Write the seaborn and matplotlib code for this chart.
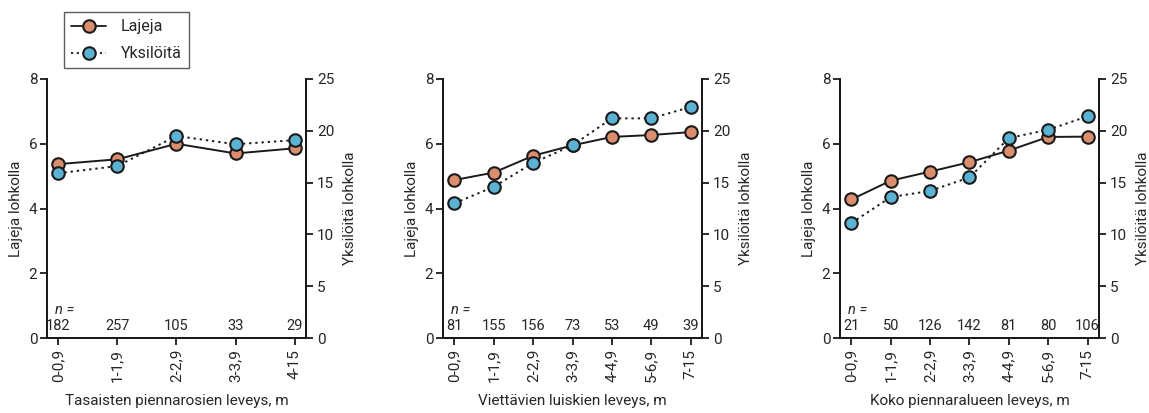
import numpy as np
import pandas as pd
import matplotlib
matplotlib.use("Agg")
import matplotlib.pyplot as plt
from matplotlib.lines import Line2D
import seaborn as sns

sns.set_theme(style="ticks")
plt.rcParams["font.family"] = ["Roboto", "DejaVu Sans"]

# Width classes per panel
classes_flat = ["0-0,9", "1-1,9", "2-2,9", "3-3,9", "4-15"]
classes_slope = ["0-0,9", "1-1,9", "2-2,9", "3-3,9", "4-4,9", "5-6,9", "7-15"]
classes_total = ["0-0,9", "1-1,9", "2-2,9", "3-3,9", "4-4,9", "5-6,9", "7-15"]

# Species per plot (left axis)
species_flat = [5.37, 5.52, 6.00, 5.70, 5.86]
species_slope = [4.88, 5.11, 5.63, 5.95, 6.21, 6.27, 6.36]
species_total = [4.28, 4.86, 5.14, 5.43, 5.79, 6.21, 6.22]

# Individuals per plot (right axis)
indiv_flat = [15.9, 16.6, 19.5, 18.7, 19.1]
indiv_slope = [13.0, 14.6, 16.9, 18.6, 21.2, 21.2, 22.3]
indiv_total = [11.1, 13.6, 14.2, 15.5, 19.3, 20.1, 21.4]

# Sample sizes
n_flat = [182, 257, 105, 33, 29]
n_slope = [81, 155, 156, 73, 53, 49, 39]
n_total = [21, 50, 126, 142, 81, 80, 106]

xlabels = [
    "Tasaisten piennarosien leveys, m",
    "Viettävien luiskien leveys, m",
    "Koko piennaralueen leveys, m",
]

ORANGE = "#DA8E6E"
BLUE = "#5BB2D3"
INK = "#1a1a1a"
FS = 11
FS_N = 10.5

fig = plt.figure(figsize=(11.49, 4.13), dpi=100)
lefts = [47 / 1149, 443 / 1149, 840 / 1149]
width = 259 / 1149
bottom = (413 - 338) / 413
height = 259 / 413

panels = [
    (classes_flat, species_flat, indiv_flat, n_flat),
    (classes_slope, species_slope, indiv_slope, n_slope),
    (classes_total, species_total, indiv_total, n_total),
]

for i, (cls, sp, ind, ns) in enumerate(panels):
    ax = fig.add_axes([lefts[i], bottom, width, height])
    df = pd.DataFrame({"pos": np.arange(len(cls)), "lajeja": sp, "yksiloita": ind})

    sns.lineplot(data=df, x="pos", y="lajeja", ax=ax, color=INK, lw=1.4,
                 marker="o", markersize=9, markerfacecolor=ORANGE,
                 markeredgecolor=INK, markeredgewidth=1.5, zorder=3)
    ax2 = ax.twinx()
    sns.lineplot(data=df, x="pos", y="yksiloita", ax=ax2, color=INK, lw=1.4,
                 linestyle=(0, (1.2, 2.0)),
                 marker="o", markersize=9, markerfacecolor=BLUE,
                 markeredgecolor=INK, markeredgewidth=1.5, zorder=3)

    pad = 0.19 if len(cls) == 5 else 0.29
    for a in (ax, ax2):
        a.set_xlim(-pad, len(cls) - 1 + pad)
        a.spines["top"].set_visible(False)
        for s in ("left", "right", "bottom"):
            a.spines[s].set_linewidth(1.4)
            a.spines[s].set_color(INK)
    ax.set_ylim(0, 8)
    ax2.set_ylim(0, 25)
    ax.set_yticks([0, 2, 4, 6, 8])
    ax2.set_yticks([0, 5, 10, 15, 20, 25])
    ax.set_xticks(np.arange(len(cls)))
    ax.set_xticklabels(cls, rotation=90, fontsize=FS)
    ax.tick_params(axis="y", labelsize=FS, length=5, width=1.3, pad=2, color=INK)
    ax.tick_params(axis="x", length=5, width=1.3, pad=3, color=INK)
    ax2.tick_params(axis="y", labelsize=FS, length=5, width=1.3, pad=3, color=INK)
    ax.set_xlabel(xlabels[i], fontsize=FS, labelpad=8)
    ax.set_ylabel("Lajeja lohkolla", fontsize=FS, labelpad=4)
    ax2.set_ylabel("Yksilöitä lohkolla", fontsize=FS, labelpad=6)

    # Sample sizes along the bottom
    for k, n in enumerate(ns):
        ax.text(k, 0.37, str(n), ha="center", va="center", fontsize=FS_N)
    ax.text(8 / 259, 0.86, "n =", transform=ax.get_yaxis_transform(),
            ha="left", va="center", fontsize=FS_N, style="italic")

handles = [
    Line2D([], [], color=INK, lw=1.3, marker="o", markersize=9,
           markerfacecolor=ORANGE, markeredgecolor=INK, markeredgewidth=1.5),
    Line2D([], [], color=INK, lw=1.3, linestyle=(0, (1.2, 2.0)), marker="o", markersize=9,
           markerfacecolor=BLUE, markeredgecolor=INK, markeredgewidth=1.5),
]
leg = fig.legend(handles, ["Lajeja", "Yksilöitä"], loc="upper left",
                 bbox_to_anchor=(64 / 1149, 1 - 12 / 413), fontsize=FS + 0.5,
                 frameon=True, fancybox=False, handlelength=2.2, handletextpad=0.9,
                 borderpad=0.45, labelspacing=0.75, borderaxespad=0)
leg.get_frame().set_edgecolor("#333333")
leg.get_frame().set_linewidth(1.0)

fig.savefig("out.png", dpi=100)
